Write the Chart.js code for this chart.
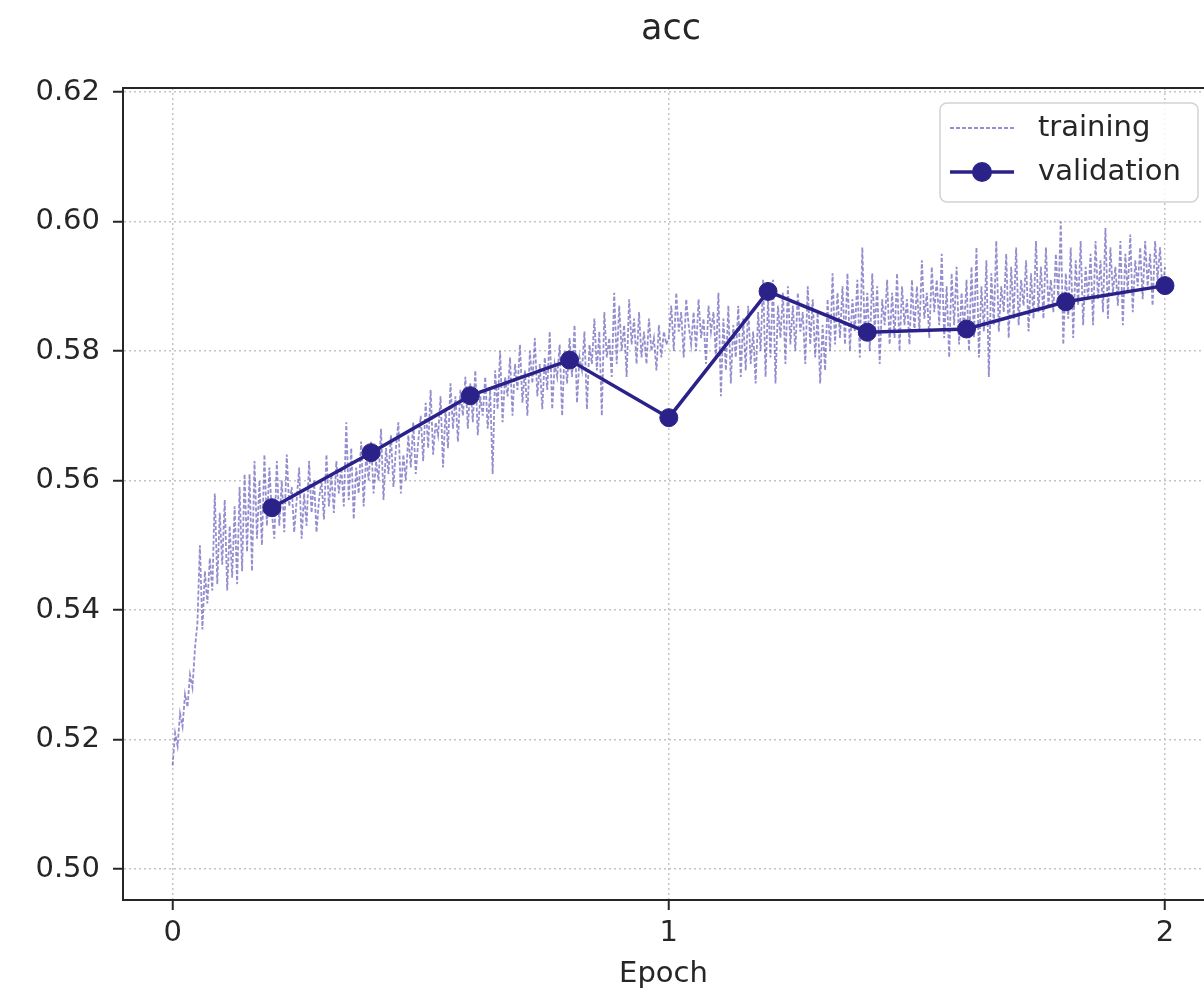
<!DOCTYPE html>
<html>
<head>
<meta charset="utf-8">
<script src="https://cdn.jsdelivr.net/npm/chart.js@4.4.1/dist/chart.umd.min.js"></script>
<style>
  html, body { margin: 0; padding: 0; background: #ffffff; overflow: hidden; }
  #c { display: block; }
</style>
</head>
<body>
<canvas id="c" width="1204" height="995"></canvas>
<script>
// ---- data ----
const chartTitle = 'acc';
const xAxisTitle = 'Epoch';
const xTickValues = [0, 1, 2];
const yTickValues = [0.50, 0.52, 0.54, 0.56, 0.58, 0.60, 0.62];

const validationEpochs = [0.2, 0.4, 0.6, 0.8, 1.0, 1.2, 1.4, 1.6, 1.8, 2.0];
const validationAcc = [0.5558, 0.5643, 0.5731, 0.5786, 0.5697, 0.5892, 0.5829, 0.5834, 0.5876, 0.5901];

const trainingStartEpoch = 0;
const trainingStepEpoch = 0.005;
const trainingAcc = [
  0.516, 0.521, 0.519, 0.524, 0.522, 0.527, 0.525, 0.530, 0.528, 0.534,
  0.538, 0.550, 0.537, 0.546, 0.541, 0.548, 0.543, 0.558, 0.544, 0.555,
  0.547, 0.557, 0.543, 0.553, 0.545, 0.556, 0.544, 0.559, 0.546, 0.561,
  0.549, 0.561, 0.546, 0.563, 0.551, 0.560, 0.550, 0.564, 0.553, 0.562,
  0.555, 0.551, 0.563, 0.553, 0.560, 0.552, 0.564, 0.556, 0.559, 0.552,
  0.557, 0.562, 0.551, 0.558, 0.553, 0.563, 0.555, 0.560, 0.552, 0.557,
  0.560, 0.554, 0.564, 0.556, 0.561, 0.555, 0.563, 0.558, 0.562, 0.556,
  0.569, 0.557, 0.565, 0.554, 0.562, 0.558, 0.566, 0.556, 0.564, 0.560,
  0.566, 0.558, 0.563, 0.560, 0.568, 0.557, 0.565, 0.561, 0.567, 0.559,
  0.565, 0.569, 0.558, 0.564, 0.560, 0.567, 0.562, 0.569, 0.561, 0.566,
  0.570, 0.563, 0.572, 0.565, 0.574, 0.564, 0.569, 0.567, 0.573, 0.562,
  0.571, 0.565, 0.575, 0.568, 0.573, 0.566, 0.574, 0.570, 0.576, 0.568,
  0.575, 0.569, 0.577, 0.567, 0.573, 0.570, 0.576, 0.568, 0.574, 0.561,
  0.577, 0.571, 0.580, 0.569, 0.576, 0.573, 0.579, 0.570, 0.578, 0.574,
  0.581, 0.572, 0.577, 0.570, 0.580, 0.575, 0.582, 0.573, 0.578, 0.571,
  0.579, 0.574, 0.583, 0.571, 0.578, 0.576, 0.581, 0.570, 0.580, 0.575,
  0.582, 0.576, 0.584, 0.572, 0.579, 0.577, 0.583, 0.571, 0.581, 0.578,
  0.585, 0.577, 0.583, 0.570, 0.586, 0.579, 0.582, 0.576, 0.589, 0.578,
  0.587, 0.580, 0.584, 0.576, 0.588, 0.581, 0.585, 0.578, 0.586, 0.579,
  0.583, 0.578, 0.585, 0.580, 0.582, 0.577, 0.584, 0.579, 0.583, 0.581,
  0.582, 0.587, 0.580, 0.589, 0.583, 0.586, 0.579, 0.588, 0.584, 0.581,
  0.586, 0.580, 0.588, 0.582, 0.585, 0.578, 0.587, 0.583, 0.586, 0.579,
  0.589, 0.573, 0.585, 0.577, 0.587, 0.575, 0.584, 0.579, 0.587, 0.576,
  0.585, 0.577, 0.587, 0.578, 0.583, 0.575, 0.586, 0.580, 0.591, 0.576,
  0.588, 0.579, 0.591, 0.575, 0.587, 0.582, 0.589, 0.578, 0.590, 0.581,
  0.587, 0.580, 0.589, 0.583, 0.586, 0.578, 0.590, 0.581, 0.588, 0.579,
  0.586, 0.575, 0.584, 0.577, 0.588, 0.580, 0.592, 0.581, 0.589, 0.582,
  0.590, 0.581, 0.592, 0.580, 0.588, 0.583, 0.591, 0.579, 0.596, 0.582,
  0.589, 0.580, 0.592, 0.583, 0.590, 0.578, 0.588, 0.584, 0.591, 0.581,
  0.589, 0.582, 0.592, 0.580, 0.590, 0.584, 0.588, 0.581, 0.591, 0.583,
  0.590, 0.583, 0.594, 0.585, 0.589, 0.582, 0.593, 0.586, 0.591, 0.584,
  0.595, 0.582, 0.590, 0.579, 0.592, 0.584, 0.593, 0.581, 0.589, 0.583,
  0.591, 0.580, 0.593, 0.582, 0.596, 0.579, 0.590, 0.583, 0.594, 0.576,
  0.592, 0.584, 0.597, 0.583, 0.590, 0.586, 0.595, 0.582, 0.593, 0.585,
  0.596, 0.584, 0.591, 0.587, 0.594, 0.583, 0.592, 0.585, 0.597, 0.586,
  0.593, 0.585, 0.596, 0.587, 0.591, 0.586, 0.595, 0.588, 0.600, 0.581,
  0.592, 0.585, 0.596, 0.582, 0.594, 0.587, 0.597, 0.584, 0.593, 0.588,
  0.595, 0.584, 0.597, 0.588, 0.594, 0.586, 0.599, 0.585, 0.596, 0.589,
  0.593, 0.587, 0.597, 0.584, 0.595, 0.589, 0.598, 0.586, 0.594, 0.590,
  0.596, 0.588, 0.597, 0.590, 0.595, 0.587, 0.597, 0.591, 0.596, 0.589,
  0.593
];

// ---- build library data ----
const trainingPoints = trainingAcc.map((v, i) => ({ x: trainingStartEpoch + i * trainingStepEpoch, y: v }));
const validationPoints = validationAcc.map((v, i) => ({ x: validationEpochs[i], y: v }));

const FONT = 'DejaVu Sans';
const TEXT = '#262626';
const SPINE = '#262626';
const GRID = '#c4c4c4';
const VAL_COLOR = '#2b2289';
const TRAIN_COLOR = 'rgba(70, 60, 170, 0.58)';

// the original axes continue ~11px beyond the cropped right edge; centre the title on that full width
const titleShiftPlugin = {
  id: 'titleShift',
  afterLayout(chart) {
    const t = chart.titleBlock;
    if (t) { t.right += 15; t.width += 15; }
  }
};

const topSpinePlugin = {
  id: 'topSpine',
  afterDraw(chart) {
    const { ctx, chartArea } = chart;
    ctx.save();
    ctx.strokeStyle = SPINE;
    ctx.lineWidth = 2;
    ctx.beginPath();
    ctx.moveTo(chartArea.left - 1, chartArea.top);
    ctx.lineTo(chartArea.right + 1, chartArea.top);
    ctx.stroke();
    ctx.restore();
  }
};

const boxLegendPlugin = {
  id: 'boxLegend',
  afterDraw(chart) {
    const { ctx } = chart;
    const ds = chart.data.datasets;
    const x0 = 940, y0 = 103, w = 258, h = 99, r = 7;
    ctx.save();
    ctx.beginPath();
    ctx.roundRect(x0, y0, w, h, r);
    ctx.fillStyle = 'rgba(255,255,255,0.85)';
    ctx.fill();
    ctx.strokeStyle = '#d2d2d2';
    ctx.lineWidth = 1.5;
    ctx.stroke();

    const rows = [128, 172];
    ds.forEach((d, i) => {
      const y = rows[i];
      ctx.save();
      ctx.strokeStyle = d.borderColor;
      ctx.lineWidth = d.borderWidth;
      ctx.setLineDash(d.borderDash || []);
      ctx.beginPath();
      ctx.moveTo(950, y);
      ctx.lineTo(1014, y);
      ctx.stroke();
      ctx.restore();
      if (d.pointRadius > 0) {
        ctx.beginPath();
        ctx.arc(982, y, d.pointRadius + 1, 0, Math.PI * 2);
        ctx.fillStyle = d.pointBackgroundColor;
        ctx.fill();
      }
      ctx.fillStyle = TEXT;
      ctx.font = '29px "' + FONT + '"';
      ctx.textBaseline = 'middle';
      ctx.textAlign = 'left';
      ctx.fillText(d.label, 1038, y);
    });
    ctx.restore();
  }
};

new Chart(document.getElementById('c'), {
  type: 'line',
  data: {
    datasets: [
      {
        label: 'training',
        data: trainingPoints,
        borderColor: TRAIN_COLOR,
        borderWidth: 1.8,
        borderDash: [4, 2],
        pointRadius: 0,
        tension: 0,
        order: 2
      },
      {
        label: 'validation',
        data: validationPoints,
        borderColor: VAL_COLOR,
        backgroundColor: VAL_COLOR,
        pointBackgroundColor: VAL_COLOR,
        pointBorderColor: VAL_COLOR,
        borderWidth: 3.5,
        pointRadius: 9,
        pointBorderWidth: 1,
        tension: 0,
        order: 1
      }
    ]
  },
  options: {
    responsive: false,
    animation: false,
    devicePixelRatio: 1,
    layout: { padding: 0, autoPadding: false },
    plugins: {
      legend: { display: false },
      tooltip: { enabled: false },
      title: {
        display: true,
        text: chartTitle,
        fullSize: false,
        color: TEXT,
        font: { family: FONT, size: 35, weight: 'normal' },
        padding: { top: 9, bottom: 37 }
      }
    },
    scales: {
      x: {
        type: 'linear',
        min: -0.1,
        max: 2.0786,
        afterFit(scale) { scale.height = 95; scale.paddingLeft = 0; scale.paddingRight = 0; },
        afterBuildTicks(scale) { scale.ticks = xTickValues.map(v => ({ value: v })); },
        ticks: {
          color: TEXT,
          font: { family: FONT, size: 29 },
          padding: 6,
          maxRotation: 0,
          autoSkip: false,
          callback: v => String(v)
        },
        grid: {
          color: GRID,
          lineWidth: 1.5,
          tickLength: 10,
          tickColor: SPINE,
          tickWidth: 2
        },
        border: { display: true, color: SPINE, width: 2, dash: [2, 3] },
        title: {
          display: true,
          text: xAxisTitle,
          color: TEXT,
          font: { family: FONT, size: 29 },
          padding: { top: 0, bottom: 3 }
        }
      },
      y: {
        type: 'linear',
        min: 0.49521,
        max: 0.62062,
        afterFit(scale) { scale.width = 123; },
        afterBuildTicks(scale) { scale.ticks = yTickValues.map(v => ({ value: v })); },
        ticks: {
          color: TEXT,
          font: { family: FONT, size: 29 },
          padding: 13,
          autoSkip: false,
          callback: v => v.toFixed(2)
        },
        grid: {
          color: GRID,
          lineWidth: 1.5,
          tickLength: 10,
          tickColor: SPINE,
          tickWidth: 2
        },
        border: { display: true, color: SPINE, width: 2, dash: [2, 3] }
      }
    }
  },
  plugins: [titleShiftPlugin, topSpinePlugin, boxLegendPlugin]
});
</script>
</body>
</html>
